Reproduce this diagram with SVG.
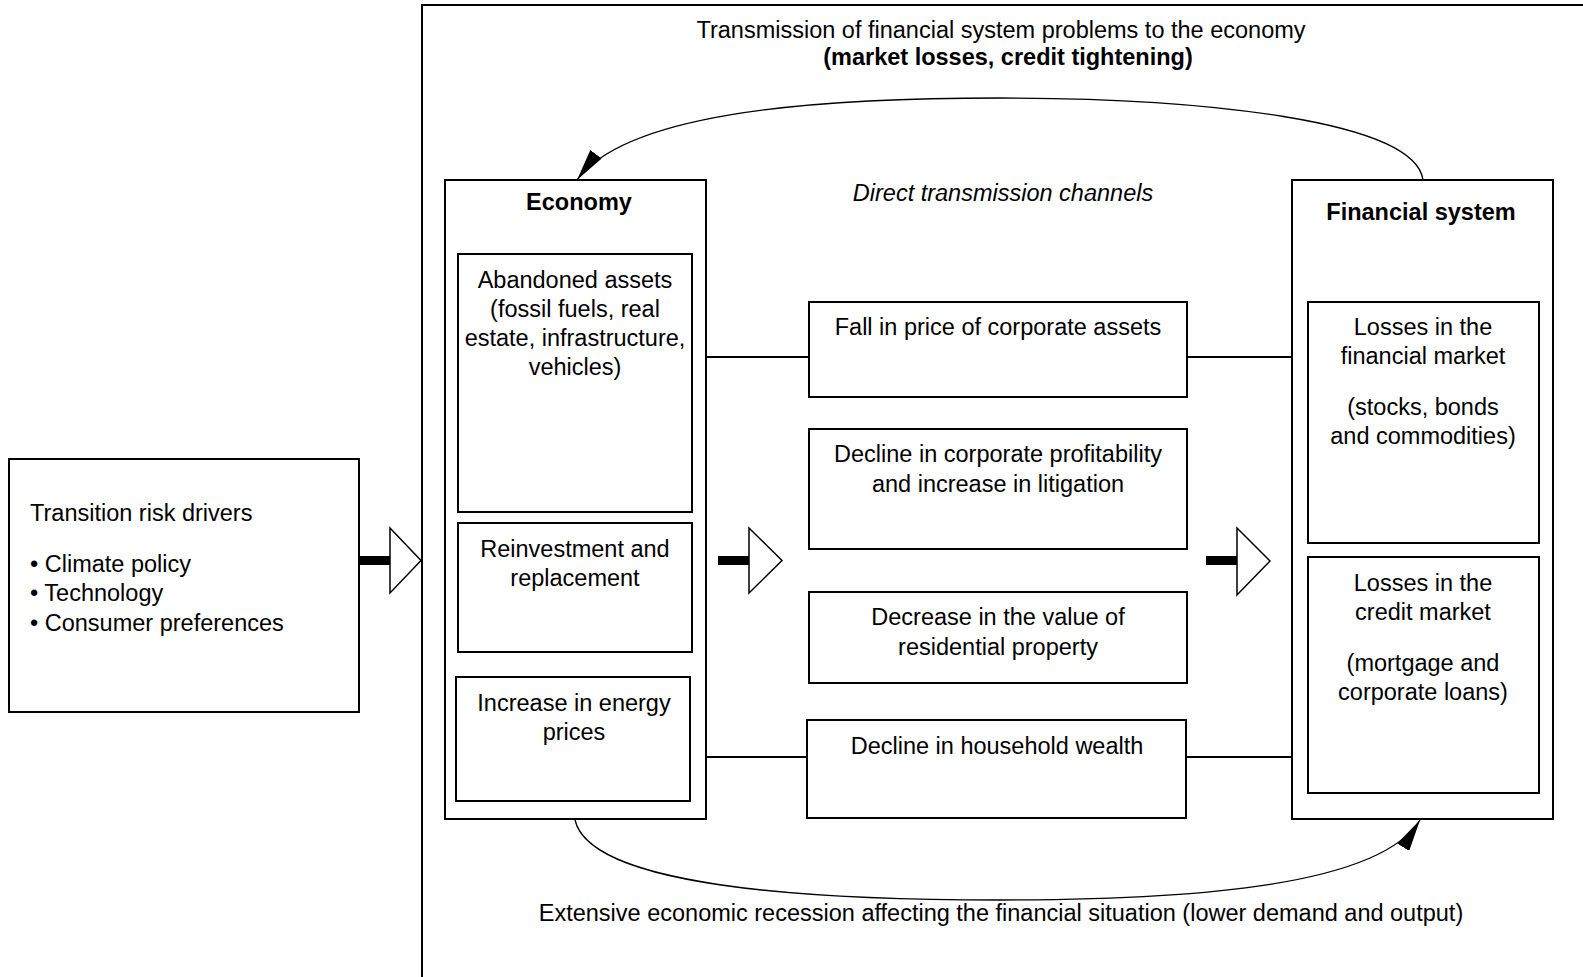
<svg xmlns="http://www.w3.org/2000/svg" width="1583" height="977" viewBox="0 0 1583 977">
<defs>
<style>
text{font-family:"Liberation Sans",Arial,sans-serif;font-size:23.5px;fill:#000}
.c{text-anchor:middle}
.b{font-weight:bold}
.i{font-style:italic}
rect{fill:#fff;stroke:#000;stroke-width:2}
.ln{stroke:#000;stroke-width:2;fill:none}
.cv{stroke:#000;stroke-width:1.3;fill:none}
.bar{fill:#000;stroke:none}
.tri{fill:#fff;stroke:#000;stroke-width:1.5}
</style>
<marker id="ah2" viewBox="0 0 32 14" refX="32" refY="7" markerWidth="32" markerHeight="14" markerUnits="userSpaceOnUse" orient="auto">
<path d="M0,0 L32,7 L0,14 z" fill="#000"/>
</marker>
</defs>
<rect x="0" y="0" width="1583" height="977" style="stroke:none;fill:#fff"/>
<g id="frame">
<path class="ln" d="M422,977 L422,5 L1583,5"/>
</g>
<g id="frame-title">
<text class="c" x="1001" y="38">Transmission of financial system problems to the economy</text>
<text class="c b" x="1008" y="65">(market losses, credit tightening)</text>
</g>
<g id="drivers">
<rect x="9" y="459" width="350" height="253"/>
<text x="30" y="521">Transition risk drivers</text>
<text x="30" y="572">• Climate policy</text>
<text x="30" y="601">• Technology</text>
<text x="30" y="631">• Consumer preferences</text>
</g>
<g id="economy">
<rect x="445" y="180" width="261" height="639"/>
<text class="c b" x="579" y="210">Economy</text>
</g>
<g id="abandoned">
<rect x="458" y="254" width="234" height="258"/>
<text class="c" x="575" y="288">Abandoned assets</text>
<text class="c" x="575" y="317">(fossil fuels, real</text>
<text class="c" x="575" y="346">estate, infrastructure,</text>
<text class="c" x="575" y="375">vehicles)</text>
</g>
<g id="reinvestment">
<rect x="458" y="523" width="234" height="129"/>
<text class="c" x="575" y="557">Reinvestment and</text>
<text class="c" x="575" y="586">replacement</text>
</g>
<g id="energy">
<rect x="456" y="677" width="234" height="124"/>
<text class="c" x="574" y="711">Increase in energy</text>
<text class="c" x="574" y="740">prices</text>
</g>
<g id="channels-label">
<text class="c i" x="1003" y="201">Direct transmission channels</text>
</g>
<g id="fall">
<rect x="809" y="302" width="378" height="95"/>
<text class="c" x="998" y="335">Fall in price of corporate assets</text>
</g>
<g id="profitability">
<rect x="809" y="429" width="378" height="120"/>
<text class="c" x="998" y="462">Decline in corporate profitability</text>
<text class="c" x="998" y="492">and increase in litigation</text>
</g>
<g id="residential">
<rect x="809" y="592" width="378" height="91"/>
<text class="c" x="998" y="625">Decrease in the value of</text>
<text class="c" x="998" y="655">residential property</text>
</g>
<g id="household">
<rect x="807" y="720" width="379" height="98"/>
<text class="c" x="997" y="754">Decline in household wealth</text>
</g>
<g id="financial">
<rect x="1292" y="180" width="261" height="639"/>
<text class="c b" x="1421" y="220">Financial system</text>
</g>
<g id="fin-market">
<rect x="1308" y="302" width="231" height="241"/>
<text class="c" x="1423" y="335">Losses in the</text>
<text class="c" x="1423" y="364">financial market</text>
<text class="c" x="1423" y="415">(stocks, bonds</text>
<text class="c" x="1423" y="444">and commodities)</text>
</g>
<g id="credit-market">
<rect x="1308" y="557" width="231" height="236"/>
<text class="c" x="1423" y="591">Losses in the</text>
<text class="c" x="1423" y="620">credit market</text>
<text class="c" x="1423" y="671">(mortgage and</text>
<text class="c" x="1423" y="700">corporate loans)</text>
</g>
<g id="recession-label">
<text class="c" x="1001" y="921">Extensive economic recession affecting the financial situation (lower demand and output)</text>
</g>
<g id="connectors">
<path class="ln" d="M706,357 H809 M1187,357 H1292 M706,757 H807 M1186,757 H1292"/>
<rect class="bar" x="359" y="556" width="31" height="9"/>
<path class="tri" d="M390,528 L421,560.5 L390,593 z"/>
<rect class="bar" x="718" y="556" width="31" height="9"/>
<path class="tri" d="M749,528 L782,560.5 L749,593 z"/>
<rect class="bar" x="1206" y="556" width="31" height="9"/>
<path class="tri" d="M1237,528 L1270,561 L1237,595 z"/>
<path class="cv" d="M1423,180 C1415,120 1200,98 1000,98 C800,98 625,115 577,180" marker-end="url(#ah2)"/>
<path class="cv" d="M575,820 C590,885 800,900 1000,900 C1200,900 1380,885 1420,820" marker-end="url(#ah2)"/>
</g>
</svg>
